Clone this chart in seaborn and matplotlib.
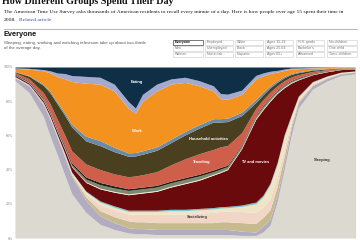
import numpy as np
import matplotlib
matplotlib.use("Agg")
import matplotlib.pyplot as plt
import seaborn as sns

# ---- data (share of people, %, by hour after 4 a.m.) ----
hours = [0, 1, 2, 2.5, 3, 3.5, 4, 5, 6, 7, 8, 8.5, 9, 10, 11, 12, 13, 14, 14.5,
         15, 16, 17, 17.5, 18, 18.5, 19, 19.5, 20, 21, 22, 23, 24]

sleeping = [92, 85, 71, 59, 48, 37, 26, 15, 8, 5, 3, 2.5, 2.5, 2, 2, 2, 2, 2, 2, 2, 1.5, 1.5, 3.5, 7.5, 21, 40, 60, 76, 87, 91.7, 95, 96]
personal_care = [1.7, 4, 7, 10, 10, 10.5, 10, 7, 5, 4, 3, 3, 3, 3, 3, 3, 3, 3, 3, 3, 2.5, 2, 3.5, 3.5, 4, 4, 4, 3, 2, 1.5, 1, 1]
relaxing = [0.2, 0.3, 0.4, 0.5, 0.6, 0.8, 1, 2, 3, 3.5, 4, 4, 4, 4, 4, 4, 4, 4, 4.5, 4.5, 5, 5, 5, 5.5, 5, 4, 2, 1, 0.6, 0.4, 0.3, 0.2]
socializing = [0.2, 0.2, 0.3, 0.4, 0.5, 0.6, 0.8, 2, 3.5, 4, 4, 4.5, 4.5, 5, 5, 5, 5.5, 6, 6, 6.2, 6.5, 6.5, 6, 6.5, 5.5, 4.5, 2, 1, 0.6, 0.4, 0.3, 0.2]
other_leisure = [0.2, 0.2, 0.3, 0.4, 0.4, 0.5, 0.5, 1, 1.5, 1.5, 1.5, 1.5, 1.5, 1.5, 2, 2, 2, 2, 2, 2, 3, 5, 6, 8, 7.5, 7, 3.3, 1.5, 0.9, 0.5, 0.3, 0.2]
religion = [0.1, 0.1, 0.2, 0.2, 0.2, 0.3, 0.3, 0.5, 0.7, 0.8, 0.8, 0.8, 0.8, 0.8, 0.8, 0.8, 0.8, 0.8, 0.8, 0.8, 0.8, 1, 1, 1, 1, 0.9, 0.7, 0.5, 0.4, 0.2, 0.1, 0.1]
tv_movies = [0.8, 0.8, 1.2, 1.5, 1.8, 2.3, 3, 5, 7, 8, 9, 9.5, 10, 11, 13, 15, 16.5, 19, 20, 21.5, 33, 48.5, 50, 48, 40.5, 27.5, 18.6, 9.5, 4, 2.5, 1.5, 1]
sports = [0.1, 0.2, 0.3, 0.3, 0.3, 0.3, 0.3, 0.4, 0.5, 0.5, 0.5, 0.5, 0.5, 0.5, 0.5, 0.5, 0.5, 0.5, 0.5, 0.5, 0.5, 0.6, 0.6, 0.6, 0.5, 0.5, 0.4, 0.3, 0.2, 0.2, 0.1, 0.1]
education = [0.2, 0.3, 0.5, 0.6, 0.7, 0.8, 1, 1.6, 2, 2, 2, 2, 2, 2, 2, 2, 2, 1.5, 1.5, 1.3, 1.2, 1.1, 1.2, 1.2, 1, 1, 0.8, 0.6, 0.4, 0.3, 0.2, 0.1]
shopping = [0.4, 0.5, 0.6, 0.7, 0.8, 1, 1.1, 1.2, 1.3, 1.2, 1, 1, 1, 1, 1, 1, 1, 1, 1, 0.8, 0.6, 0.6, 0.6, 0.5, 0.5, 0.4, 0.4, 0.4, 0.3, 0.2, 0.1, 0.1]
traveling = [0.8, 1.5, 3.2, 4.5, 5.5, 6.3, 7, 7.6, 7.5, 7, 7, 7, 7.2, 8, 9.5, 11, 12, 12, 12, 11.5, 7, 4, 3.5, 3, 2.5, 2.2, 2, 1.7, 1, 0.5, 0.3, 0.2]
household = [0.5, 1.5, 4.3, 6.5, 9, 11.5, 14, 13.5, 14, 13, 12, 11.7, 12, 12.5, 13, 14, 15, 16, 14.5, 14, 10, 3.5, 2.8, 2.5, 2, 1.7, 1.5, 1.2, 0.8, 0.4, 0.2, 0.2]
caring = [0.2, 0.3, 0.7, 0.9, 1.1, 1.3, 1.5, 2.7, 3, 2.5, 2, 2, 2, 2, 2, 2, 2, 2, 2, 2, 2, 1.8, 1.5, 1.2, 1, 0.8, 0.6, 0.5, 0.3, 0.2, 0.1, 0.1]
work = [1.8, 3.8, 7.8, 11, 15, 20, 25, 31, 33, 33, 26, 23, 29, 32.7, 32.2, 28.7, 22.7, 16.2, 11.7, 11, 10.4, 12, 9.5, 7.2, 5, 3.5, 2.5, 1.8, 0.9, 0.6, 0.3, 0.3]
work_related = [0.3, 0.5, 0.7, 1.2, 2.1, 3, 3.5, 4, 4, 4, 4, 3, 4, 4, 3, 3, 3, 3, 3, 3, 2.5, 2, 1.8, 1.3, 1, 0.8, 0.6, 0.5, 0.3, 0.2, 0.1, 0.1]
eating = [0.5, 0.8, 1.5, 2.3, 3.5, 3.8, 5, 5.5, 6, 10, 20.2, 24, 16, 10, 7, 6, 8, 11, 15.5, 15.9, 13.5, 4.9, 3.5, 2.5, 2, 1.2, 0.6, 0.5, 0.3, 0.2, 0.1, 0.1]

layers = [sleeping, personal_care, relaxing, socializing, other_leisure, religion,
          tv_movies, sports, education, shopping, traveling, household, caring,
          work, work_related, eating]
colors = ['#dcd9d1', '#b2acc0', '#c7ba8f', '#f1d6c6', '#eee5c6', '#7dc3cc',
          '#6a0a0c', '#f3efd8', '#7d8a6e', '#1f1c17', '#cf5f4a', '#4a4020',
          '#6b8aa3', '#f4921f', '#a3a9cf', '#0f2f47']

y_ticks = [0, 20, 40, 60, 80, 100]
y_labels = ['0%', '20%', '40%', '60%', '80%', '100%']

table_rows = [
    ['Everyone', 'Employed', 'White', 'Ages 15-24', 'H.S. grads', 'No children'],
    ['Men', 'Unemployed', 'Black', 'Ages 25-64', "Bachelor's", 'One child'],
    ['Women', 'Not in lab...', 'Hispanic', 'Ages 65+', 'Advanced', 'Two+ children'],
]

# ---- figure ----
sns.set_theme(style="white")
plt.rcParams['font.family'] = ['Liberation Sans', 'DejaVu Sans']
W, H = 360, 240
fig = plt.figure(figsize=(W / 100, H / 100), dpi=100)
fig.patch.set_facecolor('white')

def fx(px):
    return px / W

def fy(py):
    return 1 - py / H

serif = ['Liberation Serif', 'DejaVu Serif']
fig.text(fx(2), fy(4), 'How Different Groups Spend Their Day', family=serif,
         fontsize=7.2, fontweight='bold', va='baseline', ha='left', color='#111')
fig.text(fx(4), fy(13), 'The American Time Use Survey asks thousands of American residents to recall '
         'every minute of a day. Here is how people over age 15 spent their time in',
         family=serif, fontsize=3.95, va='baseline', ha='left', color='#111')
t = fig.text(fx(4), fy(21), '2008.', family=serif, fontsize=3.95, va='baseline', ha='left', color='#111')
renderer = fig.canvas.get_renderer()
bb = t.get_window_extent(renderer=renderer)
fig.text(bb.x1 / W + fx(2.5), fy(21), 'Related article', family=serif, fontsize=3.95,
         va='baseline', ha='left', color='#3b4fa0')

fig.add_artist(plt.Line2D([fx(4), fx(357)], [fy(29), fy(29)], color='#bbbbbb', lw=0.8))

fig.text(fx(4), fy(35), 'Everyone', fontsize=5.3, fontweight='bold', va='center', ha='left', color='#111')
fig.text(fx(4), fy(43), 'Sleeping, eating, working and watching television take up about two-thirds',
         fontsize=3.2, va='center', ha='left', color='#555')
fig.text(fx(4), fy(48.5), 'of the average day.', fontsize=3.2, va='center', ha='left', color='#555')

# table of groups
col_x = [173, 205, 235, 265, 296, 327]
col_w = [30, 28, 28, 28, 28, 30]
row_y = [39.5, 45.5, 51.5]
row_h = 5.6
for r, row in enumerate(table_rows):
    for c, label in enumerate(row):
        sel = (r == 0 and c == 0)
        rect = plt.Rectangle((fx(col_x[c]), fy(row_y[r] + row_h)), fx(col_w[c]), row_h / H,
                             transform=fig.transFigure, facecolor='white',
                             edgecolor='#444' if sel else '#cccccc', lw=0.5 if sel else 0.4)
        fig.add_artist(rect)
        fig.text(fx(col_x[c] + 2), fy(row_y[r] + row_h / 2), label, fontsize=2.6,
                 fontweight='bold' if sel else 'normal', va='center', ha='left',
                 color='#111' if sel else '#777')

# ---- chart ----
ax = fig.add_axes([fx(15), fy(238), fx(340), 171 / H])
vals = np.array(layers, dtype=float)
vals = vals / vals.sum(axis=0) * 100
ax.stackplot(hours, vals, colors=sns.color_palette(colors), linewidth=0)
ax.set_xlim(0, 24)
ax.set_ylim(0, 100)
ax.set_xticks([])
ax.set_yticks(y_ticks)
ax.set_yticklabels(y_labels, fontsize=2.6, color='#888')
ax.tick_params(axis='y', length=0, pad=1.5)
for s in ['top', 'left', 'bottom']:
    ax.spines[s].set_visible(False)
ax.spines['right'].set_color('#cccccc')
ax.spines['right'].set_linewidth(0.5)

lab = dict(fontsize=2.9, fontweight='bold', ha='center', va='center')
def pt(px, py):
    return ((px - 15) / 340 * 24, (238 - py) / 171 * 100)
ax.text(*pt(137, 82), 'Eating', color='white', **lab)
ax.text(*pt(137, 131), 'Work', color='white', **lab)
ax.text(*pt(209, 139), 'Household activities', color='white', **lab)
ax.text(*pt(201, 162), 'Traveling', color='white', **lab)
ax.text(*pt(255, 162), 'TV and movies', color='white', **lab)
ax.text(*pt(322, 160), 'Sleeping', color='#333', **lab)
ax.text(*pt(197, 217), 'Socializing', color='#333', **lab)

fig.savefig('out.png', dpi=100, facecolor='white')
